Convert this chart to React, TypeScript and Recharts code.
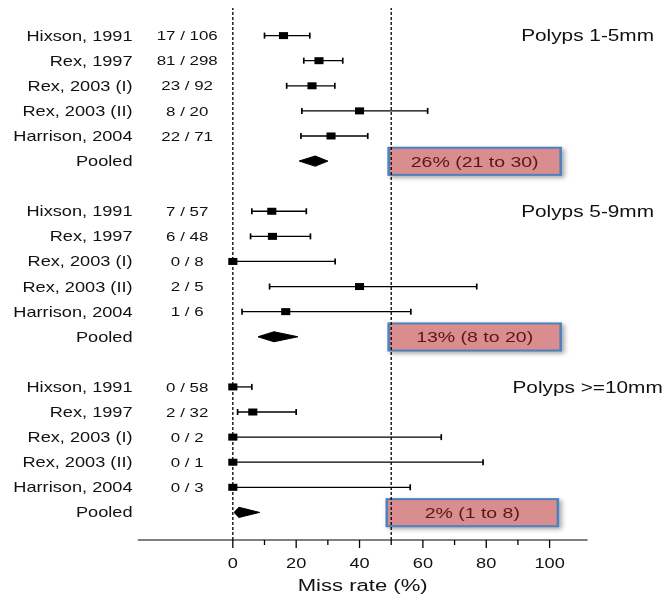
import React from 'react';
import {
  ComposedChart,
  Scatter,
  Area,
  ErrorBar,
  XAxis,
  YAxis,
  ReferenceLine,
  ReferenceArea,
} from 'recharts';

// Forest plot: miss rate of CT colonography by polyp size
const studies = ['Hixson, 1991', 'Rex, 1997', 'Rex, 2003 (I)', 'Rex, 2003 (II)', 'Harrison, 2004'];
const groupTitles = ['Polyps 1-5mm', 'Polyps 5-9mm', 'Polyps >=10mm'];
const counts = [
  ['17 / 106', '81 / 298', '23 / 92', '8 / 20', '22 / 71'],
  ['7 / 57', '6 / 48', '0 / 8', '2 / 5', '1 / 6'],
  ['0 / 58', '2 / 32', '0 / 2', '0 / 1', '0 / 3'],
];
const estimates = [
  [16, 27.2, 25, 40, 31],
  [12.3, 12.5, 0, 40, 16.7],
  [0, 6.3, 0, 0, 0],
];
const lower = [
  [10, 22.4, 17, 21.8, 21.5],
  [6, 5.6, 0, 11.6, 2.9],
  [0, 1.5, 0, 0, 0],
];
const upper = [
  [24.3, 34.7, 32.2, 61.5, 42.6],
  [23.2, 24.5, 32.3, 77, 56.2],
  [6, 20, 65.8, 79, 56],
];
const pooledEst = [26, 13, 2];
const pooledLow = [21, 8, 0.5];
const pooledHigh = [30, 20.5, 8.5];
const pooledLabels = ['26% (21 to 30)', '13% (8 to 20)', '2% (1 to 8)'];
const xTicks = [0, 10, 20, 30, 40, 50, 60, 70, 80, 90, 100];

// annotation boxes (x extent in axis units, per group)
const boxLeft = [49.2, 49.2, 48.6];
const boxRight = [103.5, 103.5, 102.6];

const ROWS_PER_GROUP = 7;
const STRETCH = 1.3; // the reference image is stretched horizontally
const FONT = '"Liberation Sans", Arial, sans-serif';

const studyPoints = groupTitles.flatMap((_, g) =>
  studies.map((_, i) => ({
    x: estimates[g][i],
    y: g * ROWS_PER_GROUP + i,
    err: [estimates[g][i] - lower[g][i], upper[g][i] - estimates[g][i]],
  }))
);

const diamonds = groupTitles.map((_, g) => {
  const r = g * ROWS_PER_GROUP + 5;
  return [
    { x: pooledLow[g], band: [r, r] },
    { x: pooledEst[g], band: [r - 0.2, r + 0.2] },
    { x: pooledHigh[g], band: [r, r] },
  ];
});

const labelRows = groupTitles.flatMap((_, g) => [0, 1, 2, 3, 4, 5].map((i) => g * ROWS_PER_GROUP + i));
const titleRows = groupTitles.map((_, g) => g * ROWS_PER_GROUP);

const Square = (props: any) => {
  const { cx, cy } = props;
  return <rect x={cx - 3.5} y={cy - 3.5} width={7} height={7} fill="#000" />;
};

const LeftTick = ({ x, y, payload }: any) => {
  const g = Math.floor(payload.value / ROWS_PER_GROUP);
  const i = payload.value % ROWS_PER_GROUP;
  const name = i < 5 ? studies[i] : 'Pooled';
  const count = i < 5 ? counts[g][i] : '';
  return (
    <g fontFamily={FONT}>
      <text x={x} y={y} dy="0.36em" textAnchor="end" fontSize={14} fill="#111">
        {name}
      </text>
      <text x={x + 42} y={y} dy="0.36em" textAnchor="middle" fontSize={13} fill="#111">
        {count}
      </text>
    </g>
  );
};

const RightTick = ({ x, y, payload }: any) => {
  const g = Math.floor(payload.value / ROWS_PER_GROUP);
  return (
    <text x={x} y={y} dy="0.36em" textAnchor="middle" fontSize={16} fill="#111" fontFamily={FONT}>
      {groupTitles[g]}
    </text>
  );
};

const BottomTick = ({ x, y, payload }: any) => {
  const major = payload.value % 20 === 0;
  return (
    <g>
      <line x1={x} y1={y} x2={x} y2={y + (major ? 8 : 5)} stroke="#000" strokeWidth={1} />
      {major && (
        <text x={x} y={y + 28} textAnchor="middle" fontSize={14} fill="#111" fontFamily={FONT}>
          {payload.value}
        </text>
      )}
    </g>
  );
};

const ShadowBox = (props: any) => {
  const { x, y, width, height } = props;
  return (
    <rect
      x={x}
      y={y}
      width={width}
      height={height}
      fill="#d98d8f"
      stroke="#4f81bd"
      strokeWidth={2}
      style={{ filter: 'drop-shadow(2px 2px 2px rgba(0,0,0,0.35))' }}
    />
  );
};

const App: React.FC = () => {
  return (
    <div
      style={{
        position: 'absolute',
        left: 0,
        top: 0,
        transform: `scaleX(${STRETCH})`,
        transformOrigin: '0 0',
        fontFamily: FONT,
      }}
    >
      <ComposedChart width={512} height={595} margin={{ top: 8, right: 0, bottom: 0, left: 0 }}>
        <XAxis
          dataKey="x"
          type="number"
          domain={[-30, 112]}
          allowDataOverflow
          ticks={xTicks}
          interval={0}
          tickSize={0}
          tickMargin={0}
          tick={<BottomTick />}
          height={55}
          axisLine={{ stroke: '#000' }}
          label={{ value: 'Miss rate (%)', position: 'insideBottom', offset: 4, fontSize: 17, fill: '#111', fontFamily: FONT }}
        />
        <YAxis
          yAxisId="l"
          dataKey="y"
          type="number"
          domain={[-1.1, 20.1]}
          reversed
          allowDataOverflow
          ticks={labelRows}
          interval={0}
          width={106}
          tickSize={0}
          tickMargin={4}
          axisLine={false}
          tickLine={false}
          tick={<LeftTick />}
        />
        <YAxis
          yAxisId="r"
          orientation="right"
          type="number"
          domain={[-1.1, 20.1]}
          reversed
          allowDataOverflow
          ticks={titleRows}
          interval={0}
          width={60}
          tickSize={0}
          tickMargin={0}
          axisLine={false}
          tickLine={false}
          tick={<RightTick />}
        />

        {pooledLabels.map((label, g) => {
          const r = g * ROWS_PER_GROUP + 5;
          return (
            <ReferenceArea
              key={label}
              yAxisId="l"
              x1={boxLeft[g]}
              x2={boxRight[g]}
              y1={r - 0.53}
              y2={r + 0.55}
              shape={<ShadowBox />}
              label={{ value: label, position: 'center', fill: '#5a1616', fontSize: 15, fontFamily: FONT }}
            />
          );
        })}

        <ReferenceLine yAxisId="l" x={0} stroke="#000" strokeDasharray="3 2" strokeWidth={1} />
        <ReferenceLine yAxisId="l" x={50} stroke="#000" strokeDasharray="3 2" strokeWidth={1} />

        {diamonds.map((d, g) => (
          <Area
            key={g}
            yAxisId="l"
            data={d}
            dataKey="band"
            type="linear"
            fill="#000"
            fillOpacity={1}
            stroke="#000"
            strokeWidth={1}
            isAnimationActive={false}
            dot={false}
            activeDot={false}
          />
        ))}

        <Scatter yAxisId="l" data={studyPoints} shape={<Square />} isAnimationActive={false}>
          <ErrorBar dataKey="err" direction="x" width={3} stroke="#000" strokeWidth={1.3} />
        </Scatter>
      </ComposedChart>
    </div>
  );
};

export default App;
